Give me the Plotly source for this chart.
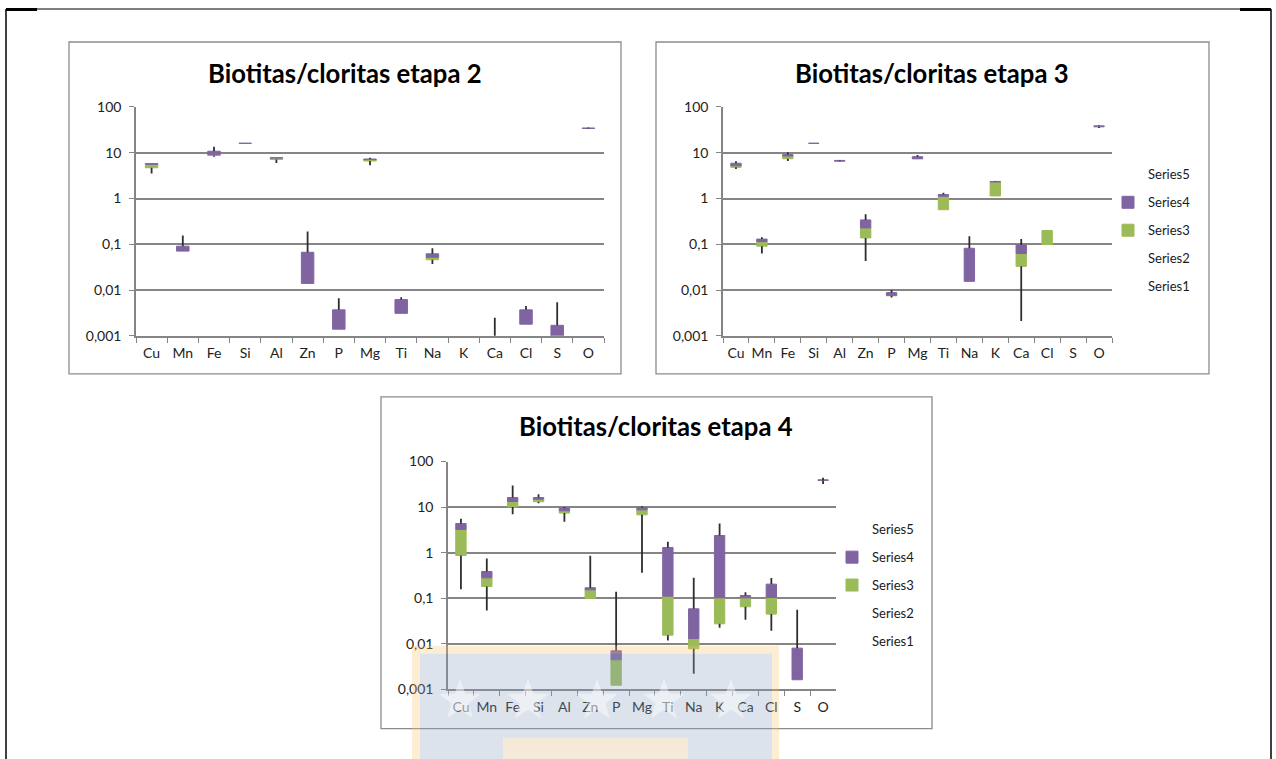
import math
import plotly.graph_objects as go

# Elements on the category axis
ELEMENTS = ['Cu', 'Mn', 'Fe', 'Si', 'Al', 'Zn', 'P', 'Mg', 'Ti', 'Na', 'K', 'Ca', 'Cl', 'S', 'O']
TICK_VALUES = [0.001, 0.01, 0.1, 1, 10, 100]
TICK_LABELS = ['0,001', '0,01', '0,1', '1', '10', '100']

# Etapa 2: minimum, first quartile, median, third quartile, maximum
E2_MIN = [3.5, 0.071, 8.2, 16.0, 6.0, 0.014, 0.0014, 5.3, 0.0031, 0.037, None, 0.0006, 0.0018, 0.0008, 33.5]
E2_Q1 = [4.7, 0.071, 8.7, 16.0, 7.1, 0.014, 0.0014, 6.6, 0.0031, 0.046, None, 0.0006, 0.0018, 0.0008, 34.0]
E2_MED = [5.6, 0.071, 9.1, 16.0, 7.7, 0.014, 0.0014, 7.1, 0.0031, 0.052, None, 0.0006, 0.0018, 0.0008, 34.1]
E2_Q3 = [5.8, 0.091, 10.8, 16.2, 7.75, 0.067, 0.0037, 7.3, 0.0062, 0.062, None, 0.0008, 0.0037, 0.0017, 34.4]
E2_MAX = [5.8, 0.155, 13.5, 16.2, 7.75, 0.19, 0.0066, 7.8, 0.0070, 0.082, None, 0.0025, 0.0045, 0.0054, 35.5]

# Etapa 3
E3_MIN = [4.4, 0.063, 6.6, 16.0, 6.4, 0.043, 0.0069, 7.3, 0.57, 0.0155, 1.14, 0.0021, 0.099, None, 34.5]
E3_Q1 = [4.8, 0.091, 7.4, 16.0, 6.5, 0.138, 0.0075, 7.3, 0.57, 0.0155, 1.14, 0.033, 0.099, None, 36.5]
E3_MED = [5.2, 0.115, 8.5, 16.0, 6.6, 0.228, 0.0077, 7.5, 1.12, 0.0155, 2.30, 0.063, 0.20, None, 38.0]
E3_Q3 = [5.9, 0.130, 9.1, 16.2, 6.8, 0.341, 0.0088, 8.2, 1.22, 0.082, 2.36, 0.097, 0.20, None, 38.5]
E3_MAX = [6.5, 0.142, 10.2, 16.2, 6.9, 0.454, 0.0100, 8.9, 1.33, 0.150, 2.42, 0.131, 0.20, None, 39.5]

# Etapa 4
E4_MIN = [0.158, 0.054, 7.0, 12.2, 4.75, 0.099, 0.00124, 0.361, 0.0119, 0.0022, 0.0225, 0.0337, 0.0194, 0.00163, 32.0]
E4_Q1 = [0.868, 0.1815, 10.1, 13.1, 7.4, 0.099, 0.00124, 6.76, 0.0155, 0.0078, 0.0275, 0.065, 0.0449, 0.00163, 38.5]
E4_MED = [3.23, 0.281, 13.3, 14.9, 8.3, 0.1535, 0.00448, 8.7, 0.111, 0.0131, 0.1023, 0.102, 0.104, 0.00163, 39.0]
E4_Q3 = [4.37, 0.387, 16.2, 16.2, 9.5, 0.170, 0.00705, 9.8, 1.30, 0.0587, 2.38, 0.115, 0.204, 0.00805, 39.5]
E4_MAX = [5.53, 0.746, 29.8, 19.2, 10.1, 0.853, 0.139, 10.5, 1.73, 0.281, 4.37, 0.136, 0.277, 0.0558, 44.0]

GREEN = '#9BBB59'
PURPLE = '#8064A2'
CLEAR = 'rgba(0,0,0,0)'
WHISKER = '#2e2e2e'
GRID = '#858585'
FONT = 'Lato'

W, H = 1276, 759
# the drawing area starts 8 px down and is slightly squeezed vertically
TOP_OFFSET, V_SCALE = 8, 0.978


def px(x):
    return x / W


def py(y):
    return 1 - ((y - TOP_OFFSET) / V_SCALE) / H


def span(lo, hi, skip_empty=False):
    out = []
    for a, b in zip(lo, hi):
        if a is None or b is None:
            out.append(None)
        elif skip_empty and b - a <= 0:
            out.append(None)
        else:
            out.append(b - a)
    return out


def add_stage(fig, xa, ya, mins, q1s, meds, q3s, maxs, legend=None):
    show = legend is not None
    common = dict(x=ELEMENTS, xaxis=xa, yaxis=ya, width=0.4, hoverinfo='skip',
                  showlegend=show)
    if show:
        common['legend'] = legend
    # invisible stacking series and the two visible box halves
    layers = [
        ('Series1', None, mins, CLEAR),
        ('Series2', mins, span(mins, q1s), CLEAR),
        ('Series3', q1s, span(q1s, meds, True), GREEN),
        ('Series4', meds, span(meds, q3s, True), PURPLE),
        ('Series5', q3s, span(q3s, maxs), CLEAR),
    ]
    for rank, (name, base, vals, color) in enumerate(layers):
        line = dict(width=1, color=color) if color != CLEAR else dict(width=0)
        kw = dict(common)
        if base is not None:
            kw['base'] = base
        fig.add_trace(go.Bar(name=name, y=vals, marker=dict(color=color, line=line),
                             legendgroup=name + (legend or ''), legendrank=10 - rank, **kw))
    # whiskers below and above each box
    wx, wy = [], []
    for el, lo, a, b, hi in zip(ELEMENTS, mins, q1s, q3s, maxs):
        if lo is None:
            continue
        if lo < a:
            wx += [el, el, None]
            wy += [lo, a, None]
        if hi > b:
            wx += [el, el, None]
            wy += [b, hi, None]
    fig.add_trace(go.Scatter(x=wx, y=wy, xaxis=xa, yaxis=ya, mode='lines',
                             line=dict(color=WHISKER, width=1.8), hoverinfo='skip',
                             showlegend=False))


fig = go.Figure()
add_stage(fig, 'x', 'y', E2_MIN, E2_Q1, E2_MED, E2_Q3, E2_MAX)
add_stage(fig, 'x2', 'y2', E3_MIN, E3_Q1, E3_MED, E3_Q3, E3_MAX, 'legend')
add_stage(fig, 'x3', 'y3', E4_MIN, E4_Q1, E4_MED, E4_Q3, E4_MAX, 'legend2')

xcommon = dict(type='category', categoryorder='array', categoryarray=ELEMENTS,
               range=[-0.5, 14.5], showgrid=False, showline=True, linecolor=GRID,
               linewidth=1.5, ticks='outside', tickson='boundaries', ticklen=5,
               tickcolor=GRID, tickwidth=1.3, ticklabelstandoff=4, tickangle=0,
               tickfont=dict(family=FONT, size=14, color='#222222'), fixedrange=True)
ycommon = dict(type='log', range=[-3, 2], tickvals=TICK_VALUES, ticktext=TICK_LABELS,
               showgrid=True, gridcolor=GRID, gridwidth=1.6, showline=True,
               linecolor=GRID, linewidth=1.5, ticks='outside', ticklen=5, tickcolor=GRID,
               tickwidth=1.3, ticklabelstandoff=5, zeroline=False,
               tickfont=dict(family=FONT, size=14, color='#222222'), fixedrange=True)

fig.update_layout(
    width=W, height=H,
    margin=dict(l=0, r=0, t=0, b=0),
    paper_bgcolor='white', plot_bgcolor='white',
    barmode='overlay',
    xaxis=dict(domain=[px(136), px(604)], anchor='y', **xcommon),
    yaxis=dict(domain=[py(335), py(106)], anchor='x', **ycommon),
    xaxis2=dict(domain=[px(723), px(1112)], anchor='y2', **xcommon),
    yaxis2=dict(domain=[py(335), py(106)], anchor='x2', **ycommon),
    xaxis3=dict(domain=[px(448), px(836)], anchor='y3', **xcommon),
    yaxis3=dict(domain=[py(688.7), py(460.7)], anchor='x3', **ycommon),
    legend=dict(x=px(1108), y=py(158.5), xanchor='left', yanchor='top',
                traceorder='grouped', tracegroupgap=8, bgcolor=CLEAR,
                font=dict(family=FONT, size=13, color='#1a1a1a')),
    legend2=dict(x=px(832), y=py(513.5), xanchor='left', yanchor='top',
                 traceorder='grouped', tracegroupgap=8, bgcolor=CLEAR,
                 font=dict(family=FONT, size=13, color='#1a1a1a')),
)

# chart titles
for text, cx, cy in [('Biotitas/cloritas etapa 2', 345, 72),
                     ('Biotitas/cloritas etapa 3', 932, 72),
                     ('Biotitas/cloritas etapa 4', 656, 425)]:
    fig.add_annotation(text='<b>' + text + '</b>', x=px(cx), y=py(cy), xref='paper',
                       yref='paper', showarrow=False, xanchor='center', yanchor='middle',
                       font=dict(family=FONT, size=25.7, color='black'))

shapes = []
# chart frames
for x0, y0, x1, y1 in [(69, 41, 621, 373), (656, 41, 1209, 373), (381, 396, 932, 728)]:
    shapes.append(dict(type='rect', xref='paper', yref='paper', x0=px(x0), y0=py(y0),
                       x1=px(x1), y1=py(y1), line=dict(color='#8c8c8c', width=1.3),
                       fillcolor=CLEAR, layer='below'))
# page border
for x0, y0, x1, y1, w in [(6, 8, 1271, 8, 1.2), (6, 8.5, 37, 8.5, 3), (1240, 8.5, 1271, 8.5, 3),
                          (6, 8, 6, 770, 1.5), (1271, 8, 1271, 770, 1.5)]:
    shapes.append(dict(type='line', xref='paper', yref='paper', x0=px(x0), y0=py(y0),
                       x1=px(x1), y1=py(y1), line=dict(color='black', width=w)))
# faint seal printed over the lower chart
for x0, y0, x1, y1, color, op in [
        (412, 645, 420, 770, '#F5C56E', 0.3),
        (772, 645, 779, 770, '#F5C56E', 0.3),
        (420, 645, 772, 653, '#F5C56E', 0.3),
        (420, 653, 772, 770, '#8AA2C0', 0.3),
        (503, 737, 688, 770, '#FBEBD3', 0.8)]:
    shapes.append(dict(type='rect', xref='paper', yref='paper', x0=px(x0), y0=py(y0),
                       x1=px(x1), y1=py(y1), line=dict(width=0), fillcolor=color,
                       opacity=op, layer='above'))


def star_path(cx, cy, r_out, r_in):
    pts = []
    for k in range(10):
        r = r_out if k % 2 == 0 else r_in
        ang = -math.pi / 2 + k * math.pi / 5
        pts.append((px(cx + r * math.cos(ang)), py(cy + r * math.sin(ang))))
    return 'M' + 'L'.join('%.5f,%.5f' % p for p in pts) + 'Z'


for sx in (460, 528, 597, 664, 731):
    shapes.append(dict(type='path', xref='paper', yref='paper', path=star_path(sx, 700, 22, 9),
                       line=dict(width=0), fillcolor='white', opacity=0.45, layer='above'))
fig.update_layout(shapes=shapes)

fig.write_html('out.html')
